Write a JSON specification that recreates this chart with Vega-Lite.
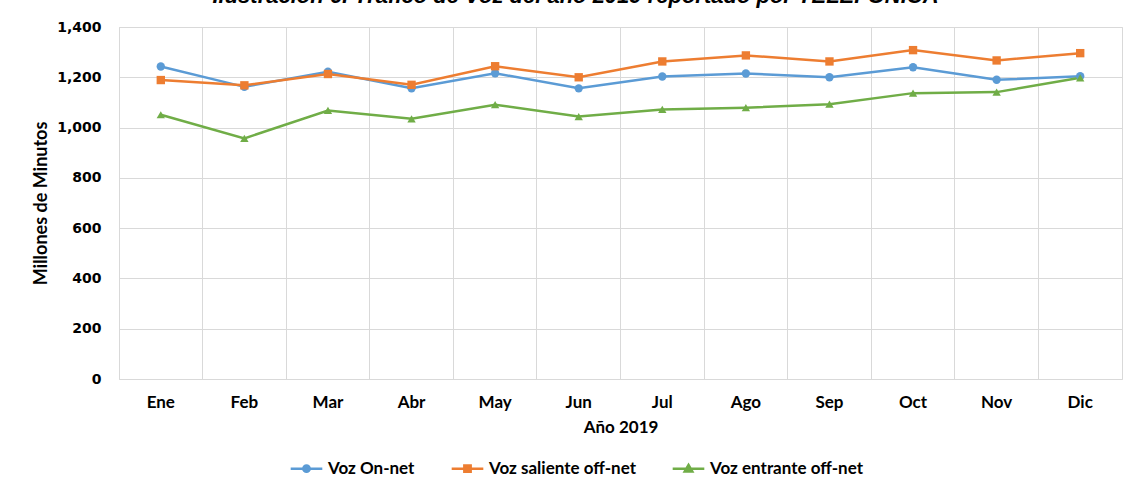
{
  "$schema": "https://vega.github.io/schema/vega-lite/v6.json",
  "width": 1003,
  "height": 352,
  "autosize": {"type": "none"},
  "padding": {"left": 119, "top": 27, "right": 12, "bottom": 107},
  "background": "white",
  "title": {
    "text": "Ilustración 6. Tráfico de Voz del año 2019 reportado por TELEFÓNICA",
    "font": "Liberation Sans",
    "fontSize": 22,
    "fontStyle": "italic",
    "fontWeight": "bold",
    "color": "#000000",
    "anchor": "middle",
    "frame": "group",
    "dx": -45,
    "offset": 12
  },
  "config": {
    "view": {"stroke": "#D9D9D9", "strokeWidth": 1},
    "axis": {"gridColor": "#D9D9D9", "domain": false, "ticks": false}
  },
  "data": {
    "values": [
      {"mes": "Ene", "serie": "Voz On-net", "valor": 1243},
      {"mes": "Feb", "serie": "Voz On-net", "valor": 1162},
      {"mes": "Mar", "serie": "Voz On-net", "valor": 1222},
      {"mes": "Abr", "serie": "Voz On-net", "valor": 1156},
      {"mes": "May", "serie": "Voz On-net", "valor": 1216},
      {"mes": "Jun", "serie": "Voz On-net", "valor": 1156},
      {"mes": "Jul", "serie": "Voz On-net", "valor": 1203},
      {"mes": "Ago", "serie": "Voz On-net", "valor": 1215},
      {"mes": "Sep", "serie": "Voz On-net", "valor": 1200},
      {"mes": "Oct", "serie": "Voz On-net", "valor": 1240},
      {"mes": "Nov", "serie": "Voz On-net", "valor": 1190},
      {"mes": "Dic", "serie": "Voz On-net", "valor": 1204},
      {"mes": "Ene", "serie": "Voz saliente off-net", "valor": 1189},
      {"mes": "Feb", "serie": "Voz saliente off-net", "valor": 1168},
      {"mes": "Mar", "serie": "Voz saliente off-net", "valor": 1213},
      {"mes": "Abr", "serie": "Voz saliente off-net", "valor": 1170},
      {"mes": "May", "serie": "Voz saliente off-net", "valor": 1244},
      {"mes": "Jun", "serie": "Voz saliente off-net", "valor": 1200},
      {"mes": "Jul", "serie": "Voz saliente off-net", "valor": 1263},
      {"mes": "Ago", "serie": "Voz saliente off-net", "valor": 1287},
      {"mes": "Sep", "serie": "Voz saliente off-net", "valor": 1263},
      {"mes": "Oct", "serie": "Voz saliente off-net", "valor": 1308},
      {"mes": "Nov", "serie": "Voz saliente off-net", "valor": 1267},
      {"mes": "Dic", "serie": "Voz saliente off-net", "valor": 1296},
      {"mes": "Ene", "serie": "Voz entrante off-net", "valor": 1051},
      {"mes": "Feb", "serie": "Voz entrante off-net", "valor": 957},
      {"mes": "Mar", "serie": "Voz entrante off-net", "valor": 1068},
      {"mes": "Abr", "serie": "Voz entrante off-net", "valor": 1035},
      {"mes": "May", "serie": "Voz entrante off-net", "valor": 1091},
      {"mes": "Jun", "serie": "Voz entrante off-net", "valor": 1044},
      {"mes": "Jul", "serie": "Voz entrante off-net", "valor": 1072},
      {"mes": "Ago", "serie": "Voz entrante off-net", "valor": 1079},
      {"mes": "Sep", "serie": "Voz entrante off-net", "valor": 1093},
      {"mes": "Oct", "serie": "Voz entrante off-net", "valor": 1137},
      {"mes": "Nov", "serie": "Voz entrante off-net", "valor": 1141},
      {"mes": "Dic", "serie": "Voz entrante off-net", "valor": 1198}
    ]
  },
  "encoding": {
    "x": {
      "field": "mes",
      "type": "ordinal",
      "sort": ["Ene", "Feb", "Mar", "Abr", "May", "Jun", "Jul", "Ago", "Sep", "Oct", "Nov", "Dic"],
      "scale": {"type": "band", "paddingInner": 0, "paddingOuter": 0},
      "axis": {
        "title": "Año 2019",
        "titleFont": "Lato",
        "titleFontSize": 17,
        "titleFontWeight": "bold",
        "titleColor": "#000000",
        "titlePadding": 9,
        "labelFont": "Lato",
        "labelFontSize": 17,
        "labelFontWeight": "bold",
        "labelColor": "#000000",
        "labelAngle": 0,
        "labelPadding": 15,
        "grid": true,
        "bandPosition": 0
      }
    },
    "y": {
      "field": "valor",
      "type": "quantitative",
      "scale": {"domain": [0, 1400]},
      "axis": {
        "title": "Millones de Minutos",
        "titleFont": "Lato",
        "titleFontSize": 18,
        "titleFontWeight": "bold",
        "titleColor": "#000000",
        "titlePadding": 6,
        "labelFont": "DejaVu Sans",
        "labelFontSize": 14,
        "labelFontWeight": "bold",
        "labelColor": "#000000",
        "labelPadding": 18,
        "values": [0, 200, 400, 600, 800, 1000, 1200, 1400],
        "format": ",d",
        "grid": true
      }
    },
    "color": {
      "field": "serie",
      "type": "nominal",
      "sort": ["Voz On-net", "Voz saliente off-net", "Voz entrante off-net"],
      "scale": {
        "domain": ["Voz On-net", "Voz saliente off-net", "Voz entrante off-net"],
        "range": ["#5B9BD5", "#ED7D31", "#70AD47"]
      },
      "legend": {
        "title": null,
        "orient": "none",
        "legendX": 170,
        "legendY": 424,
        "direction": "horizontal",
        "labelFont": "Lato",
        "labelFontSize": 17,
        "labelFontWeight": "bold",
        "labelColor": "#000000",
        "labelOffset": 4,
        "symbolSize": 1000,
        "columnPadding": 31,
        "encode": {
          "symbols": {
            "update": {
              "shape": {"signal": "datum.value === 'Voz On-net' ? 'M-1,0L1,0M-0.2,0A0.2,0.2,0,1,0,0.2,0A0.2,0.2,0,1,0,-0.2,0Z' : datum.value === 'Voz saliente off-net' ? 'M-1,0L1,0M-0.2,-0.2L0.2,-0.2L0.2,0.2L-0.2,0.2Z' : 'M-1,0L1,0M0,-0.24L0.24,0.18L-0.24,0.18Z'"},
              "fill": {"signal": "datum.value === 'Voz On-net' ? '#5B9BD5' : datum.value === 'Voz saliente off-net' ? '#ED7D31' : '#70AD47'"},
              "stroke": {"signal": "datum.value === 'Voz On-net' ? '#5B9BD5' : datum.value === 'Voz saliente off-net' ? '#ED7D31' : '#70AD47'"},
              "strokeWidth": {"value": 2.5},
              "size": {"value": 1000},
              "opacity": {"value": 1}
            }
          }
        }
      }
    }
  },
  "layer": [
    {
      "mark": {"type": "line", "strokeWidth": 2.5}
    },
    {
      "transform": [{"filter": "datum.serie === 'Voz On-net'"}],
      "mark": {"type": "point", "filled": true, "opacity": 1, "shape": "circle", "size": 70}
    },
    {
      "transform": [{"filter": "datum.serie === 'Voz saliente off-net'"}],
      "mark": {"type": "point", "filled": true, "opacity": 1, "shape": "square", "size": 70}
    },
    {
      "transform": [{"filter": "datum.serie === 'Voz entrante off-net'"}],
      "mark": {"type": "point", "filled": true, "opacity": 1, "shape": "triangle-up", "size": 70}
    }
  ]
}
